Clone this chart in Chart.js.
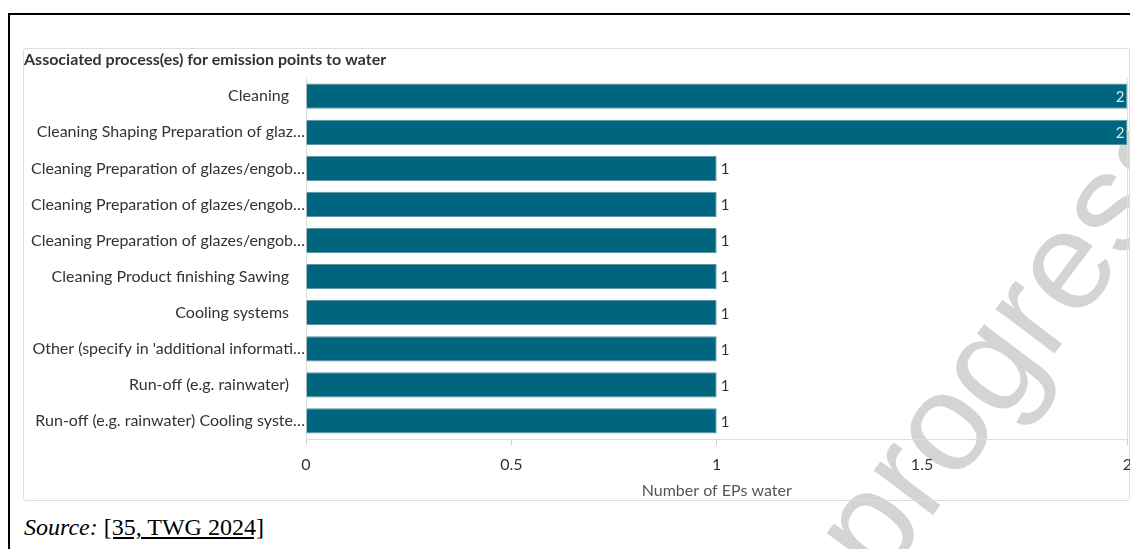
<!DOCTYPE html>
<html>
<head>
<meta charset="utf-8">
<script src="https://cdn.jsdelivr.net/npm/chart.js@4.4.1/dist/chart.umd.min.js"></script>
<style>
  body { margin: 0; background: #fff; width: 1130px; height: 549px; overflow: hidden; position: relative; }
  #frame { position: absolute; left: 8px; top: 13px; width: 1130px; height: 540px; border-left: 2px solid #000; border-top: 2px solid #000; }
  #mark { position: absolute; left: 0; top: 0; }
  #card { position: absolute; left: 23px; top: 48px; width: 1105px; height: 451px; border: 1px solid #ddd; border-radius: 3px; }
  #wrap { position: absolute; left: 24px; top: 49px; width: 1118px; height: 451px; }
  #source { position: absolute; left: 24px; top: 514px; font-family: "Liberation Serif", "Times New Roman", serif; font-size: 24px; color: #000; }
  #source span { text-decoration: underline; }
</style>
</head>
<body>
<div id="frame"></div>
<svg id="mark" width="1130" height="549">
  <text x="1208" y="150" transform="rotate(-53 1208 150)" text-anchor="end"
        font-family="Liberation Sans, Arial, sans-serif" font-size="140" fill="#d4d4d4">Work in progress</text>
</svg>
<div id="card"></div>
<div id="wrap"><canvas id="myChart"></canvas></div>
<div id="source"><i>Source:</i> <span>[35, TWG 2024]</span></div>

<script>
let processes = [
    'Cleaning',
    'Cleaning Shaping Preparation of glaz…',
    'Cleaning Preparation of glazes/engob…',
    'Cleaning Preparation of glazes/engob…',
    'Cleaning Preparation of glazes/engob…',
    'Cleaning Product finishing Sawing',
    'Cooling systems',
    "Other (specify in 'additional informati…",
    'Run-off (e.g. rainwater)',
    'Run-off (e.g. rainwater) Cooling syste…'
];
let epCounts = [2, 2, 1, 1, 1, 1, 1, 1, 1, 1];
let xTicks = [0, 0.5, 1, 1.5, 2];

let fontName = 'Lato, "Noto Sans", sans-serif';

// value labels at the end of each bar, inside when there is no room
let barLabels = {
    id: 'barLabels',
    afterDatasetsDraw(chart) {
        let ctx = chart.ctx;
        let area = chart.chartArea;
        let meta = chart.getDatasetMeta(0);
        ctx.save();
        ctx.font = '15px ' + fontName;
        ctx.textBaseline = 'middle';
        meta.data.forEach((bar, i) => {
            let txt = String(epCounts[i]);
            let w = ctx.measureText(txt).width;
            if (bar.x + 4 + w > area.right) {
                ctx.fillStyle = '#e6e6e6';
                ctx.textAlign = 'right';
                ctx.fillText(txt, bar.x - 3, bar.y + 1);
            } else {
                ctx.fillStyle = '#333';
                ctx.textAlign = 'left';
                ctx.fillText(txt, bar.x + 4, bar.y + 1);
            }
        });
        ctx.restore();
    }
};

let ctx = document.getElementById('myChart').getContext('2d');
let myChart = new Chart(ctx, {
    type: 'bar',
    data: {
        labels: processes,
        datasets: [{
            label: 'Number of EPs water',
            data: epCounts,
            backgroundColor: '#00657f',
            borderColor: '#5f93a5',
            borderWidth: 1,
            barPercentage: 0.7,
            categoryPercentage: 1
        }]
    },
    options: {
        indexAxis: 'y',
        responsive: true,
        maintainAspectRatio: false,
        animation: false,
        devicePixelRatio: 1,
        layout: { padding: 0 },
        plugins: {
            legend: { display: false },
            tooltip: { enabled: false },
            title: {
                display: true,
                text: 'Associated process(es) for emission points to water',
                align: 'start',
                color: '#333',
                font: { family: fontName, size: 16, weight: 'bold' },
                padding: { top: 1, bottom: 9 }
            }
        },
        scales: {
            x: {
                min: xTicks[0],
                max: xTicks[xTicks.length - 1],
                afterBuildTicks: (scale) => { scale.ticks = xTicks.map(v => ({ value: v })); },
                afterFit: (scale) => { scale.height = 61; },
                ticks: {
                    color: '#333',
                    font: { family: fontName, size: 16 },
                    padding: 10,
                    callback: (v) => String(v)
                },
                grid: {
                    color: (c) => (c.tick && c.tick.value === 2) ? '#ddd' : 'rgba(0,0,0,0)',
                    tickColor: '#d0d0d0',
                    tickLength: 6
                },
                border: { display: true, color: '#ddd' },
                title: {
                    display: true,
                    text: 'Number of EPs water',
                    color: '#555',
                    font: { family: fontName, size: 16 },
                    padding: { top: 7, bottom: 0 }
                }
            },
            y: {
                afterFit: (scale) => { scale.width = 282; },
                ticks: {
                    color: '#333',
                    font: { family: fontName, size: 16 },
                    padding: 1,
                    autoSkip: false,
                    // cut labels run up to the axis, full ones keep a gap
                    callback: function (v) {
                        let s = this.getLabelForValue(v);
                        return s.endsWith('…') ? s : s + '\u2002\u2002';
                    }
                },
                grid: { display: false, drawTicks: false },
                border: { display: true, color: '#ddd' }
            }
        }
    },
    plugins: [barLabels]
});
</script>
</body>
</html>
